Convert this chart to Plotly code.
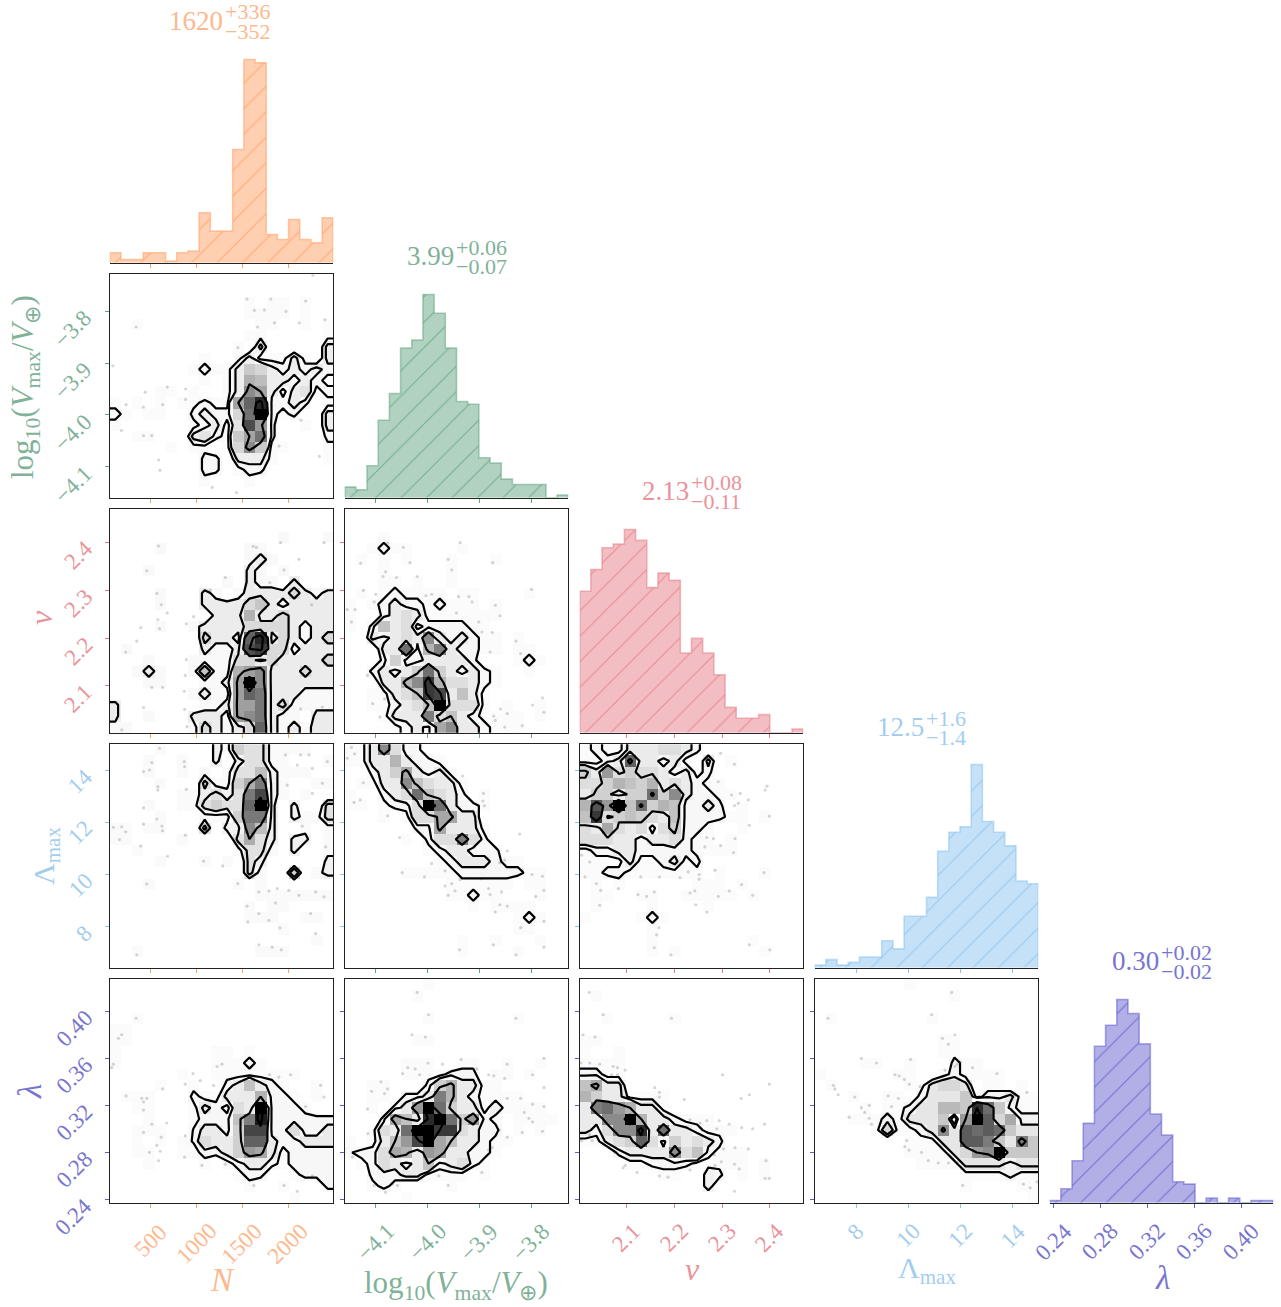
import numpy as np
import plotly.graph_objects as go

# ---------- axes ----------
RANGES = [(51, 2492), (-4.16, -3.728), (2.002, 2.47), (6.41, 14.99), (0.2372, 0.4272)]
TICKS = [[500, 1000, 1500, 2000], [-4.1, -4.0, -3.9, -3.8], [2.1, 2.2, 2.3, 2.4],
         [8, 10, 12, 14], [0.24, 0.28, 0.32, 0.36, 0.40]]
TICKTEXT = [["500", "1000", "1500", "2000"], ["\u22124.1", "\u22124.0", "\u22123.9", "\u22123.8"],
            ["2.1", "2.2", "2.3", "2.4"], ["8", "10", "12", "14"],
            ["0.24", "0.28", "0.32", "0.36", "0.40"]]
COLORS = [(255, 160, 100), (100, 165, 130), (230, 125, 135), (140, 195, 240), (100, 95, 205)]
TEXTCOL = ["#FDB88E", "#7FB298", "#E9939A", "#A3CDEF", "#7875D0"]

# ---------- 1-D histogram counts ----------
HIST_N = [6, 2, 2, 6, 6, 1, 6, 7, 30, 19, 19, 68, 122, 120, 17, 14, 26, 14, 12, 27]
HIST_V = [4, 3, 12, 29, 39, 56, 59, 76, 69, 56, 36, 35, 15, 13, 7, 5, 5, 5, 0, 1]
HIST_NU = [39, 45, 51, 52, 56, 53, 40, 44, 42, 22, 26, 22, 16, 7, 4, 4, 5, 0, 0, 1]
HIST_L = [1, 3, 1, 2, 4, 4, 10, 7, 19, 19, 26, 43, 50, 52, 75, 54, 50, 45, 32, 31]
HIST_LAM = [1, 6, 18, 34, 67, 76, 87, 81, 68, 38, 29, 9, 8, 0, 2, 0, 2, 0, 1, 1]

# ---------- 2-D histogram counts: {row from top: {col: count}} ----------
H10 = {2:{12:1,14:1,15:1,17:1},3:{12:1,13:1,14:1,15:1,17:1},4:{2:1,13:1,14:1,17:1,19:1},5:{12:1,13:1,19:1},
 6:{11:1,13:3,19:3},7:{8:1,11:1,12:3,13:1,14:1,15:1,16:3,17:1,19:3},
 8:{7:1,8:2,9:1,10:1,11:3,12:6,13:5,14:3,15:2,16:3,17:2,18:3,19:2},
 9:{8:1,10:1,11:3,12:8,13:7,14:3,15:3,16:2,17:3,18:2,19:1},
 10:{4:1,5:1,7:1,10:1,11:3,12:11,13:9,14:3,15:1,16:3,17:4,18:1,19:2},
 11:{0:1,2:1,4:1,6:1,7:1,8:2,9:1,10:1,11:9,12:14,13:19,14:2,15:2,16:3,17:2,19:1},
 12:{0:2,1:1,3:1,4:1,7:2,8:3,9:2,10:2,11:5,12:13,13:22,14:2,15:1,16:2,19:3},
 13:{0:1,7:1,8:2,9:3,10:1,11:4,12:16,13:10,14:2,17:1,19:3},
 14:{2:1,3:1,7:3,8:4,9:2,10:1,11:6,12:9,13:13,14:2,19:2},
 15:{5:1,7:1,8:1,10:1,11:5,12:11,13:6,14:1,15:1,19:1},
 16:{8:2,9:2,11:3,12:3,13:3,14:1,19:1},17:{8:2,9:2,11:1,12:2,13:2},18:{8:1,12:1}}
H20 = {2:{15:1,19:1},3:{4:1,12:1,13:1},4:{12:1,13:2,14:1},5:{3:1,12:2,13:1,15:1},6:{10:1,12:2,13:1,14:1,16:2},
 7:{4:1,8:2,9:1,11:1,12:2,13:2,14:2,15:2,16:3,17:2,18:1,19:2},
 8:{4:1,8:2,9:2,10:2,11:2,12:3,13:4,14:2,15:1,16:2,17:2,18:2,19:2},
 9:{9:2,10:2,11:2,12:5,13:2,14:2,15:3,16:2,17:2,18:2,19:2},
 10:{4:1,7:1,8:2,9:2,10:2,11:2,12:3,13:3,14:3,15:3,16:2,17:1,18:2,19:2},
 11:{8:3,9:2,10:2,11:1,12:9,13:12,14:2,15:3,16:2,17:1,18:2,19:3},
 12:{1:1,8:2,9:1,10:1,11:2,12:10,13:11,14:3,15:3,16:1,17:2,18:2,19:2},
 13:{3:1,7:1,8:1,9:1,10:1,11:3,12:3,13:2,14:3,15:2,16:2,17:2,18:2,19:3},
 14:{2:1,3:2,4:1,7:1,8:4,9:1,10:1,11:5,12:6,13:7,14:2,15:2,16:2,17:3,18:2,19:2},
 15:{3:1,4:1,8:1,9:1,10:2,11:6,12:14,13:7,14:2,15:2,16:2,17:2,18:2,19:2},
 16:{7:1,8:2,9:1,10:1,11:6,12:9,13:8,14:2,15:2,16:2,17:1,18:1,19:1},
 17:{0:2,8:1,9:1,10:2,11:6,12:6,13:8,14:2,15:3,16:1,17:1,18:1,19:1},
 18:{0:2,3:1,7:2,8:2,9:2,10:1,11:6,12:7,13:8,14:2,15:1,16:1,18:2,19:2},
 19:{0:1,1:1,7:1,8:3,9:2,10:1,11:2,12:3,13:9,14:2,15:1,16:2,17:1,18:2,19:2}}
H21 = {2:{3:1},3:{2:1,3:2,4:1,5:1,10:1},4:{1:1,3:1,5:1,9:1,13:1},5:{3:1,9:1},6:{3:1,4:1,6:1,9:1},7:{1:1,3:1,4:2,5:1,6:1,7:1,8:1,10:1,11:1,16:1},
 8:{0:1,2:1,3:2,4:3,5:2,6:2,7:1,8:2,9:1,10:1,11:1,13:1},9:{0:1,3:2,4:3,5:4,6:3,7:1,8:1,9:1,10:1,11:1,12:1,13:1},
 10:{0:1,2:2,3:6,4:3,5:4,6:1,7:2,8:2,9:2,10:2,11:1,12:1},
 11:{2:3,3:2,4:3,5:4,6:3,7:10,8:3,9:2,10:3,11:2,12:1,13:1,15:1},
 12:{3:3,4:3,5:12,6:2,7:7,8:11,9:3,10:2,11:2,12:1,13:1,15:1,16:1},
 13:{3:2,4:5,5:2,6:2,7:3,8:3,9:3,10:3,11:2,15:1,16:2,17:1},
 14:{2:2,3:3,4:2,5:3,6:5,7:12,8:5,9:3,10:2,11:3,12:2,13:1,16:1},
 15:{3:3,4:3,5:7,6:10,7:16,8:7,9:4,10:4,11:3,12:2,13:1},
 16:{2:1,3:1,4:3,5:4,6:6,7:16,8:15,9:3,10:6,11:3,12:1},
 17:{2:1,3:1,4:2,5:3,6:4,7:6,8:20,9:4,10:4,11:4,12:1,14:1,17:1},
 18:{3:1,4:3,5:3,6:3,7:11,8:4,9:6,10:3,11:2,12:1,13:1,14:1,15:1,17:1},
 19:{4:1,5:2,6:3,7:2,8:8,9:10,10:3,11:3,12:2,13:1,14:1,15:1}}
H30 = {0:{4:1,9:2,10:1,11:4,12:3,13:3,14:1,15:1,16:1,17:1},1:{3:1,6:1,9:2,11:2,12:3,13:3,14:1,15:1,19:1},
 2:{3:1,6:1,8:1,10:1,11:3,12:3,13:5,14:2,15:1,16:1,17:1},3:{4:1,8:3,9:1,10:1,11:4,12:6,13:9,14:2,15:1,18:1,19:1},
 4:{6:1,7:1,8:2,9:3,10:2,11:3,12:9,13:12,14:2,15:1,17:1},5:{3:1,6:1,7:1,8:3,9:4,10:3,11:3,12:10,13:16,14:2,16:2,19:3},
 6:{4:1,8:1,9:1,10:1,11:4,12:9,13:9,14:2,16:2,17:1,18:1,19:3},7:{0:1,1:1,3:1,4:1,8:3,10:2,11:2,12:8,13:5,14:2,17:1,19:1},
 8:{0:1,1:1,6:1,11:3,12:6,13:3,14:2,16:2,17:2,19:1},9:{2:1,11:1,12:3,13:3,14:1,16:2,19:1},
 10:{4:1,8:1,10:1,12:3,13:2,19:2},11:{12:3,13:1,16:4,18:1,19:2},12:{3:1,11:1,13:1},
 13:{13:1,14:1,15:1,16:1,17:1,18:1,19:1},14:{12:1,14:1,15:1},15:{12:1,13:1,14:1,17:1,18:1},16:{15:1},17:{18:1},18:{2:1,13:1,14:1,15:1}}
H31 = {0:{0:1,1:1,2:3,3:10,4:4,5:2,6:2},1:{0:1,1:1,2:3,3:3,4:7,5:3,6:2,7:2,8:1},2:{2:2,3:3,4:5,5:8,6:3,7:2,8:3,9:1},
 3:{1:1,2:1,3:3,4:3,5:10,6:6,7:4,8:3,9:3,10:1},4:{0:1,3:2,4:3,5:4,6:12,7:6,8:4,9:3,10:2,12:1},
 5:{0:1,1:1,3:1,4:2,5:2,6:4,7:20,8:12,9:3,10:2,11:2,12:1},6:{3:1,5:1,6:4,7:4,8:8,9:8,10:3,11:3},
 7:{6:2,7:2,8:8,9:3,10:3,11:3,12:1},8:{5:1,7:2,8:4,9:4,10:11,11:4,12:2},9:{7:1,8:2,9:3,10:3,11:2,12:2,13:2},
 10:{8:1,9:2,10:3,11:3,12:3,13:2,14:1,15:1},11:{5:1,6:1,7:1,8:1,9:1,10:2,11:2,12:2,13:2,14:2,15:2,16:1,17:1},
 12:{9:1,10:1,11:1,12:1,13:1,14:1,16:1,17:1},13:{9:1,10:1,11:2,12:1,13:1,17:1},14:{11:1,13:1,14:1,15:1,16:1},15:{15:1,16:2,17:1},
 16:{15:1,16:1},17:{10:1,13:1,17:1},18:{10:1,15:1}}
H32 = {0:{0:1,1:2,2:1,3:1,4:3,5:3,6:3,7:4,8:4,9:3,10:2},1:{0:1,1:1,2:2,3:3,4:13,5:3,6:3,7:2,8:3,9:1,11:3,13:1},
 2:{0:5,1:3,2:9,3:4,4:5,5:4,6:4,7:3,8:2,9:3,10:1,11:2},3:{0:4,1:4,2:5,3:7,4:6,5:5,6:7,7:3,8:4,9:3,10:2,11:1,12:1},
 4:{0:3,1:5,2:5,3:3,4:5,5:5,6:12,7:5,8:10,9:3,10:2,11:2,12:1,13:1},5:{0:7,1:14,2:9,3:20,4:6,5:12,6:5,7:7,8:6,9:2,10:2,11:3,12:2,14:1},
 6:{0:6,1:16,2:4,3:5,4:6,5:5,6:4,7:3,8:6,9:2,10:2,11:2,12:2,13:1,14:1,16:1},7:{0:4,1:3,2:8,3:4,4:3,5:4,6:2,7:4,8:5,9:2,10:2,11:1,14:1},
 8:{0:4,1:4,2:4,3:3,4:3,5:2,6:3,7:3,8:4,9:2,10:1,11:1,13:1},9:{0:1,1:2,2:2,3:3,4:3,5:2,6:2,7:2,8:2,9:2,10:1,11:1,12:1,13:1},
 10:{0:1,1:1,2:1,3:1,4:3,5:1,6:1,7:2,8:3,9:1,10:2},11:{0:1,1:1,2:2,3:2,4:1,5:1,6:1,7:1,8:1,9:1,10:1,12:1,16:1},
 12:{1:1,3:1,10:1,11:1,12:1,14:1},13:{1:1,2:1,5:1,6:1,9:1,10:1,11:1,12:1,13:1,15:1},14:{1:1,6:1,11:1},15:{0:1,5:1,6:2,7:1},16:{6:1},
 17:{6:1,15:1},18:{6:1,8:1,16:1}}
H40 = {3:{2:1},4:{0:1,1:1},5:{0:1,1:1},6:{0:1,9:1,10:1,12:1},7:{0:1,9:1,10:1,11:1,12:2,13:1},8:{6:1,9:1,10:1,11:1,12:1,13:1,14:1,15:1,16:1},
 9:{4:1,7:1,10:2,11:3,12:6,13:3,14:2,15:1,18:1},10:{1:1,2:1,3:1,7:2,8:1,9:1,10:3,11:3,12:3,13:7,14:2,15:2,16:1,18:1},
 11:{2:1,3:1,7:1,8:3,9:2,10:1,11:4,12:3,13:20,14:2,15:2,16:2,17:1},12:{3:1,7:1,8:2,9:2,10:2,11:6,12:11,13:18,14:2,15:2,16:2,17:2,18:2,19:2},
 13:{2:1,3:1,4:1,7:1.6,8:3,9:3,10:2,11:5,12:15,13:15,14:2,15:2,16:4,17:2,18:2,19:3},
 14:{2:1,4:1,6:1,7:1.6,8:4,9:3,10:3,11:5,12:13,13:13,14:3,15:2,16:2,17:3,18:3,19:3},
 15:{2:1,3:1,6:1,7:1,8:2,9:2,10:3,11:5,12:9,13:8,14:3,15:1,16:2,17:2,18:2,19:2},
 16:{3:1,8:1,10:1,11:2,12:3,13:3,14:2,15:1,16:2,17:2,18:2,19:2},17:{11:1,12:2,13:2,16:1,17:2,18:2,19:2},18:{12:1,15:1,19:2},19:{16:1}}
H41 = {0:{7:1},1:{6:1},3:{7:1,15:1},5:{6:1,7:1},7:{5:1,6:1,7:1,10:1,11:1,14:1,17:1},8:{5:1,6:1,7:1,8:1,9:2,10:2,11:2,13:1,14:1,16:1},
 9:{2:1,3:1,7:2,8:5,9:7,10:3,11:3,12:1,13:1},10:{2:1,3:1,5:2,6:2,7:3,8:11,9:7,10:3,11:2,12:1,13:1,14:1,15:1},
 11:{2:1,4:2,5:3,6:9,7:20,8:12,9:5,10:3,11:3,12:1,13:2.4,14:1,15:1,16:1,17:1},12:{3:2,4:8,5:6,6:3,7:17,8:20,9:12,10:5,11:9,12:2,13:1,15:1,16:1,17:1,18:1},
 13:{2:1,3:4,4:3,5:12,6:20,7:20,8:16,9:16,10:4,11:3,12:2,13:2,15:1,17:1},14:{0:1,2:1,3:3,4:6,5:9,6:15,7:20,8:8,9:6,10:3,11:3,12:2,13:1,14:1},
 15:{0:1.4,1:2,2:2,3:4,4:8,5:7,6:3,7:9,8:8,9:3,10:3,11:2,12:2,13:1},16:{1:1,2:2,3:4,4:3,5:2,6:3,7:6,8:2,9:3,10:4,11:2,12:1},
 17:{2:2,3:2,4:2,5:3,6:3,7:1,8:1,9:1,10:1,12:1},18:{2:1,3:2,4:1,9:1},19:{5:1}}
H42 = {1:{1:1},3:{2:1,8:1},5:{0:1,1:1},6:{0:1,3:1},7:{0:1,1:1,2:1,3:1},8:{0:2,1:2,2:1,3:1},9:{0:6,1:8,2:3,3:3},
 10:{0:7,1:5,2:3,3:3,4:1,5:1,6:1,7:1},11:{0:3,1:11,2:12,3:9,4:7,5:3,6:3,7:1},12:{0:3,1:3,2:10,3:10,4:20,5:7,6:3,7:3,8:2,9:1,10:1,11:1},
 13:{0:3,1:2,2:4,3:10,4:10,5:17,6:3,7:12,8:3,9:3,10:2,11:1,12:1,13:1},14:{0:1,1:1,2:3,3:4,4:5,5:13,6:4,7:2,8:5,9:3,10:4,11:3,12:2},
 15:{3:2,4:3,5:3,6:3,7:3,8:10,9:4,10:6,11:2,12:1,13:1,14:1},16:{4:1,5:1,6:2,7:2,8:2,9:2,10:1,11:1,12:1,13:1,14:1,16:1},
 17:{7:1,8:1,11:2.4,12:2,14:1,16:1},18:{11:2.4}}
H43 = {0:{8:1},1:{12:1},3:{1:1,10:1},5:{11:1,12:1},6:{11:1,12:1},7:{4:1,5:1,8:1,12:2,13:1,14:1},
 8:{0:1,7:1,8:1,11:1,12:2,13:1,14:1,15:1,16:1},9:{1:1,8:1,9:1,10:3,11:4,12:4,13:3,15:1,16:1,18:1},
 10:{3:1,6:1,7:1,9:2,10:3,11:3,12:3,13:5,14:1,15:2,16:2,17:3,18:1,19:1},
 11:{4:1,6:1,7:1,8:2,9:3,10:3,11:6,12:6,13:5,14:15,15:11,16:5,17:2,18:1,19:1},
 12:{3:1,4:1,5:1,6:2,7:1,8:3,9:3,10:3,11:5,12:0,13:8,14:18,15:12,16:4,17:7,18:2,19:2},
 13:{5:1,6:4,7:1,8:1,9:2,10:3,11:9,12:3,13:12,14:11,15:12,16:11,17:5,18:3,19:3},
 14:{8:1,9:1,10:1,11:3,12:3,13:12,14:12,15:10,16:5,17:3,18:10,19:5},15:{8:1,9:1,10:1,11:1,12:3,13:4,14:8,15:9,16:18,17:5,18:5,19:5},
 16:{9:1,10:1,11:1,12:1,13:3,14:3,15:3,16:3,17:2,18:3,19:3},17:{13:1,14:1,15:1,16:1,17:2,18:1,19:1},18:{13:1,18:1,19:1},19:{19:1}}
LEVELS = {(1,0):[1.5,2.5,9,17],(2,0):[1.5,2.5,5.5,10],(2,1):[1.5,2.5,6,14],(3,0):[1.5,2.5,6,13],(3,1):[1.5,2.5,7,15],
          (3,2):[1.5,2.5,4.5,11],(4,0):[1.5,2.5,7,16],(4,1):[1.5,2.5,6,16],(4,2):[1.5,2.5,7,15],(4,3):[1.5,2.5,8,15]}
GRIDS = {(1,0):H10,(2,0):H20,(2,1):H21,(3,0):H30,(3,1):H31,(3,2):H32,(4,0):H40,(4,1):H41,(4,2):H42,(4,3):H43}

# ---------- isolated samples (x, y) ----------
D10 = [(340,-3.83),(85,-3.905),(438,-3.956),(420,-3.985),(230,-3.98),(630,-3.98),(180,-4.03),(420,-4.04),(510,-4.04),(585,-4.087),(600,-4.107),(1170,-4.14),(1435,-4.15),(1550,-3.776),(1810,-3.776),(2190,-3.78),(1630,-3.798),(1740,-3.797),(1975,-3.8),(2120,-3.822),(2400,-3.816),(1850,-3.822),(1665,-3.83),(2270,-3.73),(1450,-3.87),(680,-3.946),(880,-3.95),(880,-3.97),(1900,-4.06),(2140,-4.01),(2340,-4.08)]
D20 = [(584,2.393),(456,2.341),(566,2.294),(613,2.27),(679,2.253),(577,2.239),(595,2.22),(390,2.222),(347,2.194),(226,2.171),(887,2.23),(967,2.245),(1150,2.3),(1314,2.327),(1617,2.392),(1653,2.39),(1916,2.4),(2390,2.4),(2117,2.365),(1953,2.343),(1799,2.316),(2256,2.27),(420,2.055),(511,2.097),(628,2.097),(876,2.122),(865,2.089),(887,2.155),(869,2.051),(895,2.015),(182,2.008),(2135,2.052),(2372,2.056)]
D21 = [(-4.077,2.399),(-4.047,2.39),(-4.034,2.358),(-4.129,2.357),(-4.081,2.339),(-4.086,2.329),(-4.06,2.327),(-4.02,2.329),(-3.96,2.365),(-3.953,2.343),(-3.937,2.4),(-3.874,2.358),(-3.799,2.302),(-4.124,2.3),(-4.1,2.292),(-4.103,2.276),(-4.14,2.26),(-4.155,2.26),(-4.147,2.234),(-4.003,2.289),(-3.992,2.292),(-3.94,2.287),(-3.92,2.287),(-3.914,2.276),(-3.944,2.253),(-3.901,2.234),(-3.869,2.269),(-3.86,2.247),(-3.895,2.213),(-3.875,2.212),(-3.829,2.194),(-3.879,2.171),(-3.82,2.168),(-4.116,2.122),(-4.083,2.073),(-4.106,2.063),(-4.092,2.035),(-3.872,2.037),(-3.846,2.042),(-3.859,2.052),(-3.778,2.075),(-3.775,2.045),(-3.797,2.06),(-3.869,2.028),(-3.851,2.014),(-3.817,2.017)]
D30 = [(595,14.83),(511,14.28),(420,13.94),(486,14),(865,14.32),(869,14.13),(887,13.26),(577,13.36),(577,13.23),(420,12.55),(566,12.12),(621,11.85),(628,11.67),(420,11.92),(91,11.8),(182,11.82),(226,11.63),(157,11.33),(390,11.08),(683,10.69),(876,11.5),(1077,10.5),(1285,10.32),(456,9.63),(1449,9.64),(347,6.91),(1679,9.32),(1789,9.36),(1880,9.45),(2007,9.38),(2117,9.19),(2299,9.32),(2391,9.13),(1551,8.78),(1861,8.9),(1679,8.49),(1789,8.23),(1558,8.17),(2245,8.49),(1909,7.94),(2300,7.72),(1679,7.29),(1825,7.2),(1924,7.1),(1970,14.58),(2135,14.58),(2226,14.58),(2099,14.19),(2263,14.06),(2427,14.32),(2372,13.49),(1989,13.42),(2263,13.1),(2409,11.05),(2153,11.85)]
D31 = [(-4.147,14.87),(-4.155,14.45),(-4.141,14.62),(-4.124,13.51),(-4.142,12.76),(-4.13,12.85),(-4.077,12.24),(-4.054,11.41),(-3.932,13.77),(-3.944,13.06),(-3.892,13.1),(-3.893,12.81),(-3.89,12.63),(-3.822,11.54),(-3.846,10.9),(-3.851,10.54),(-3.861,10.44),(-3.992,10.41),(-4.049,10.06),(-4.006,9.9),(-3.966,10.13),(-3.817,10.15),(-3.798,9.99),(-3.778,9.92),(-3.953,9.64),(-3.966,9.55),(-3.947,9.36),(-3.96,9.19),(-3.937,9.79),(-3.896,9.83),(-3.882,9.45),(-3.879,9.22),(-3.857,9.32),(-3.86,8.83),(-3.846,8.78),(-3.869,8.55),(-3.775,9.38),(-3.791,9.15),(-3.775,8.19),(-3.82,7.95),(-3.873,7.29),(-3.938,7.1),(-3.775,7.2),(-3.829,6.91)]
D32 = [(2.056,14.67),(2.297,14.64),(2.326,14.22),(2.233,14.06),(2.257,13.9),(2.292,13.55),(2.394,13.38),(2.39,13.23),(2.338,13.1),(2.32,13.04),(2.355,12.85),(2.334,12.72),(2.326,12.63),(2.399,12.23),(2.357,11.88),(2.327,11.37),(2.282,11.37),(2.297,11.1),(2.264,11.05),(2.324,10.83),(2.268,11.41),(2.006,10.73),(2.023,10.47),(2.013,9.9),(2.13,9.9),(2.169,9.9),(2.212,9.87),(2.229,10.09),(2.252,9.99),(2.252,9.81),(2.285,10.15),(2.388,10.06),(2.341,9.6),(2.037,9.64),(2.046,9.38),(2.083,9.45),(2.124,9.22),(2.142,9.15),(2.158,9.32),(2.233,9.28),(2.243,9.36),(2.292,9.15),(2.315,9.36),(2.364,9.19),(2.044,8.81),(2.268,8.55),(2.245,8.83),(2.168,7.95),(2.163,7.67),(2.158,7.18),(2.193,6.91),(2.357,7.29),(2.4,7.1)]
D40 = [(339,.394),(182,.38),(146,.377),(91,.355),(73,.352),(230,.328),(401,.326),(420,.323),(456,.326),(420,.316),(511,.304),(420,.297),(628,.334),(675,.305),(613,.293),(485,.28),(566,.286),(602,.281),(584,.273),(876,.294),(869,.276),(960,.347),(1040,.341),(876,.338),(1186,.337),(1223,.353),(1277,.355),(1796,.346),(1898,.344),(2026,.346),(2354,.337),(2390,.327),(2190,.319),(1953,.252),(2099,.247),(1624,.252),(2263,.26),(1058,.269),(1314,.27)]
D41 = [(-4.02,.416),(-3.998,.397),(-3.829,.394),(-4.03,.38),(-4.004,.378),(-3.999,.356),(-4.038,.352),(-4.048,.347),(-4.024,.351),(-4.015,.346),(-3.971,.355),(-3.935,.359),(-3.905,.351),(-3.882,.346),(-3.872,.345),(-3.851,.343),(-3.846,.355),(-3.775,.36),(-3.797,.346),(-3.775,.335),(-4.09,.34),(-4.108,.332),(-4.077,.334),(-4.083,.33),(-4.116,.317),(-4.115,.296),(-3.82,.326),(-3.846,.326),(-3.797,.321),(-3.775,.319),(-3.813,.314),(-3.804,.309),(-3.797,.306),(-3.778,.298),(-3.817,.297),(-3.861,.299),(-3.846,.293),(-3.875,.284),(-3.882,.282),(-4.145,.276),(-4.103,.252),(-4.081,.246),(-4.068,.253),(-4.058,.252),(-3.978,.26),(-3.96,.252),(-3.895,.263)]
D42 = [(2.022,.416),(2.051,.397),(2.194,.394),(2.009,.38),(2.034,.378),(2.004,.356),(2.023,.356),(2.044,.355),(2.072,.353),(2.081,.352),(2.097,.35),(2.069,.346),(2.081,.346),(2.159,.335),(2.169,.331),(2.169,.327),(2.221,.325),(2.301,.346),(2.399,.338),(2.357,.329),(2.34,.326),(2.233,.308),(2.254,.305),(2.268,.307),(2.294,.307),(2.315,.304),(2.341,.301),(2.364,.3),(2.389,.304),(2.289,.3),(2.006,.29),(2.023,.295),(2.028,.29),(2.076,.28),(2.097,.269),(2.093,.267),(2.122,.263),(2.169,.26),(2.187,.259),(2.233,.265),(2.284,.278),(2.303,.283),(2.327,.284),(2.355,.283),(2.392,.273),(2.298,.272),(2.285,.269),(2.336,.266),(2.326,.27),(2.39,.258),(2.399,.258),(2.326,.247)]
D43 = [(11.67,.416),(10.9,.397),(6.92,.394),(11.79,.38),(11.31,.377),(11.54,.372),(8.2,.36),(8.78,.356),(10.09,.359),(11.88,.355),(11.79,.353),(11.41,.35),(12.0,.357),(12.47,.352),(13.4,.347),(9.49,.346),(9.65,.345),(9.85,.342),(10.04,.338),(10.45,.336),(7.12,.337),(7.18,.334),(7.31,.329),(14.55,.331),(14.06,.328),(7.95,.327),(9.23,.328),(9.62,.326),(9.36,.319),(8.5,.32),(8.2,.318),(8.33,.314),(7.73,.31),(8.5,.309),(8.59,.304),(9.94,.29),(10.03,.282),(9.87,.285),(10.51,.28),(10.77,.273),(11.15,.271),(11.54,.271),(11.92,.272),(12.09,.252),(14.42,.253),(14.68,.25),(14.94,.255)]
DOTS = {(1,0):D10,(2,0):D20,(2,1):D21,(3,0):D30,(3,1):D31,(3,2):D32,(4,0):D40,(4,1):D41,(4,2):D42,(4,3):D43}

HISTS = [HIST_N, HIST_V, HIST_NU, HIST_L, HIST_LAM]
CENTRAL = ["1620", "3.99", "2.13", "12.5", "0.30"]
UPPER = ["+336", "+0.06", "+0.08", "+1.6", "+0.02"]
LOWER = ["\u2212352", "\u22120.07", "\u22120.11", "\u22121.4", "\u22120.02"]
XLABELS = ["<i>N</i>", "log<sub>10</sub>(<i>V</i><sub>max</sub>/<i>V</i><sub>\u2295</sub>)", "<i>\u03bd</i>", "\u039b<sub>max</sub>", "<i>\u03bb</i>"]
GREYS = [[0, "#ffffff"], [0.1, "#f7f7f7"], [0.2, "#dedede"], [1, "#000000"]]

# ---------- page geometry ----------
W, H = 1281, 1307
FONT = "Liberation Serif"
LEFT0, STEP, SIDE = 109.7, 235.0, 223.6
BOTTOM0 = 262.8
def px(x): return x / W
def py(y): return 1 - y / H
def rgba(c, a): return f"rgba({c[0]},{c[1]},{c[2]},{a})"

fig = go.Figure()
layout = {}
n = 0
for r in range(5):
    for c in range(r + 1):
        n += 1
        xa, ya = f"xaxis{n}", f"yaxis{n}"
        xr, yr = f"x{n}", f"y{n}"
        x0 = LEFT0 + STEP * c
        yb = BOTTOM0 + STEP * r
        xcol = COLORS[c]
        layout[xa] = dict(domain=[px(x0), px(x0 + SIDE)], anchor=yr, range=list(RANGES[c]),
                          tickvals=TICKS[c], ticks="outside", ticklen=4, tickwidth=1,
                          tickcolor=rgba(xcol, 1), showgrid=False, zeroline=False, showline=True,
                          linecolor="#222", linewidth=1.4, mirror=(r != c), showticklabels=False)
        if r == c:
            edges = np.linspace(RANGES[c][0], RANGES[c][1], 21)
            counts = HISTS[c]
            xs = [edges[0]] + list(edges) + [edges[-1]]
            ys = [0] + list(counts) + [counts[-1], 0]
            fig.add_trace(go.Scatter(x=xs, y=ys, xaxis=xr, yaxis=yr, mode="lines", line=dict(shape="hv", color=rgba(xcol, 0.55), width=1.6),
                                     fill="tozeroy", fillcolor=rgba(xcol, 0.5), hoverinfo="skip",
                                     fillpattern=dict(shape="/", size=18, solidity=0.055, fgcolor=rgba(xcol, 0.85), bgcolor=rgba(xcol, 0.5), fillmode="replace")))
            layout[ya] = dict(domain=[py(yb), py(yb - SIDE)], anchor=xr, range=[0, 1.1 * max(counts)], visible=False)
        else:
            g = np.zeros((20, 20))
            for row, vals in GRIDS[(r, c)].items():
                for col, v in vals.items():
                    g[19 - row, col] = v
            xe = np.linspace(*RANGES[c], 21)
            ye = np.linspace(*RANGES[r], 21)
            xm = 0.5 * (xe[:-1] + xe[1:])
            ym = 0.5 * (ye[:-1] + ye[1:])
            fig.add_trace(go.Heatmap(x=xm, y=ym, z=g, xaxis=xr, yaxis=yr, zmin=0, zmax=g.max(), showscale=False,
                                     colorscale=GREYS, hoverinfo="skip"))
            dots = DOTS[(r, c)]
            fig.add_trace(go.Scatter(x=[d[0] for d in dots], y=[d[1] for d in dots], xaxis=xr, yaxis=yr, mode="markers",
                                     marker=dict(size=3.2, color="rgba(0,0,0,0.16)"), hoverinfo="skip"))
            dx, dy = xe[1] - xe[0], ye[1] - ye[0]
            x2 = np.r_[xm[0] - 2 * dx, xm[0] - dx, xm, xm[-1] + dx, xm[-1] + 2 * dx]
            y2 = np.r_[ym[0] - 2 * dy, ym[0] - dy, ym, ym[-1] + dy, ym[-1] + 2 * dy]
            g2 = np.pad(g, 2, mode="edge")
            for L in LEVELS[(r, c)]:
                fig.add_trace(go.Contour(x=x2, y=y2, z=g2, xaxis=xr, yaxis=yr, autocontour=False, showscale=False, hoverinfo="skip",
                                         contours=dict(coloring="none", start=L, end=L, size=1),
                                         line=dict(color="black", width=2.2, smoothing=0)))
            ycol = COLORS[r]
            layout[ya] = dict(domain=[py(yb), py(yb - SIDE)], anchor=xr, range=list(RANGES[r]),
                              tickvals=TICKS[r], ticks="outside", ticklen=4, tickwidth=1,
                              tickcolor=rgba(ycol, 1), showgrid=False, zeroline=False, showline=True,
                              linecolor="#222", linewidth=1.4, mirror=True, showticklabels=False)

ann = []
def text(x, y, s, col, size, angle=0, xa="center", ya="middle"):
    ann.append(dict(x=px(x), y=py(y), xref="paper", yref="paper", text=s, showarrow=False, textangle=angle,
                    xanchor=xa, yanchor=ya, font=dict(family=FONT, size=size, color=col)))

# tick labels: below the bottom row and left of the first column
for c in range(5):
    for v, s in zip(TICKS[c], TICKTEXT[c]):
        ann.append(dict(x=v, xref=f"x{11 + c}", y=py(1216), yref="paper", text=s, showarrow=False, textangle=-45,
                        xanchor="center", yanchor="top", font=dict(family=FONT, size=23, color=TEXTCOL[c])))
for r in range(1, 5):
    panel = r * (r + 1) // 2 + 1
    for v, s in zip(TICKS[r], TICKTEXT[r]):
        ann.append(dict(x=px(100), xref="paper", y=v, yref=f"y{panel}", yshift=9, text=s, showarrow=False, textangle=-45,
                        xanchor="right", yanchor="top", font=dict(family=FONT, size=23, color=TEXTCOL[r])))

SPLIT = [225, 456, 691, 926, 1161]
YTXT = [21, 256, 491, 727, 961]
for i in range(5):
    text(SPLIT[i], YTXT[i], CENTRAL[i], TEXTCOL[i], 27, xa="right")
    text(SPLIT[i] - 2, YTXT[i] - 9, UPPER[i], TEXTCOL[i], 22, xa="left")
    text(SPLIT[i] - 2, YTXT[i] + 10, LOWER[i], TEXTCOL[i], 22, xa="left")

text(222, 1280, XLABELS[0], TEXTCOL[0], 33)
text(456, 1285, XLABELS[1], TEXTCOL[1], 31)
text(692, 1269, XLABELS[2], TEXTCOL[2], 32)
text(927, 1270, XLABELS[3], TEXTCOL[3], 30)
text(1162, 1278, XLABELS[4], TEXTCOL[4], 33)
text(25, 387, XLABELS[1], TEXTCOL[1], 31, angle=-90)
text(41, 618, XLABELS[2], TEXTCOL[2], 32, angle=-90)
text(46, 856, XLABELS[3], TEXTCOL[3], 30, angle=-90)
text(30, 1092, XLABELS[4], TEXTCOL[4], 33, angle=-90)

fig.update_layout(width=W, height=H, margin=dict(l=0, r=0, t=0, b=0, autoexpand=False), autosize=False, showlegend=False,
                  paper_bgcolor="white", plot_bgcolor="white", annotations=ann, **layout)
fig.write_html("out.html", config={"displayModeBar": False},
               post_script="document.body.style.margin='0';document.documentElement.style.overflow='hidden';")
